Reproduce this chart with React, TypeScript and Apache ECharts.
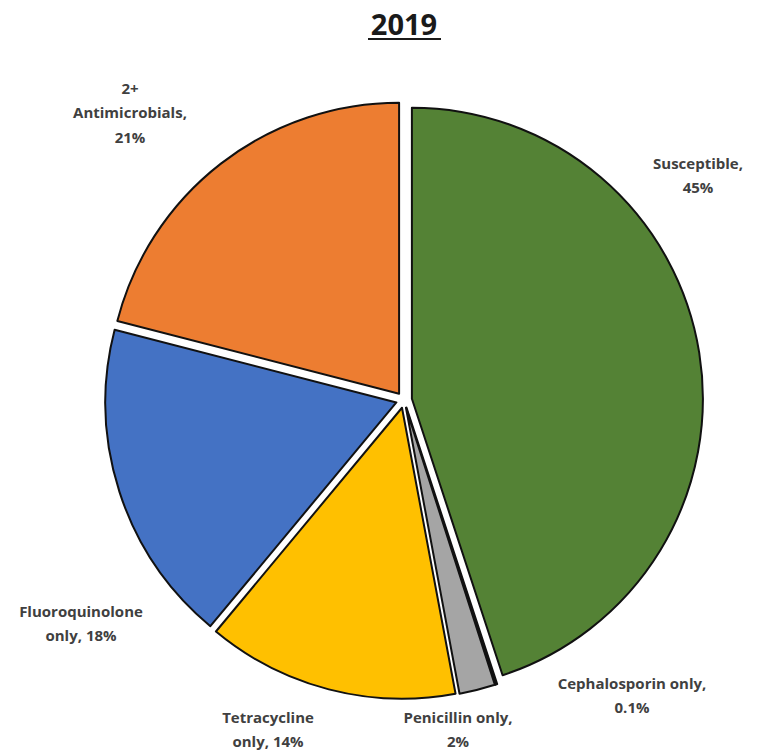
import React, { useEffect, useRef } from "react";
import * as echarts from "echarts";

const titleText = "2019";
const categories = [
  "Susceptible",
  "Cephalosporin only",
  "Penicillin only",
  "Tetracycline only",
  "Fluoroquinolone only",
  "2+ Antimicrobials",
];
const values = [45, 0.1, 2, 14, 18, 21];
const labelTexts = [
  "Susceptible,\n45%",
  "Cephalosporin only,\n0.1%",
  "Penicillin only,\n2%",
  "Tetracycline\nonly, 14%",
  "Fluoroquinolone\nonly, 18%",
  "2+\nAntimicrobials,\n21%",
];
const colors = ["#548235", "#3a3a3a", "#A5A5A5", "#FFC000", "#4472C4", "#ED7D31"];
const labelPos: [number, number][] = [
  [698, 175],
  [632, 695],
  [458, 729],
  [268, 729],
  [81, 623],
  [130, 112],
];

export default function App() {
  const ref = useRef<HTMLDivElement>(null);
  useEffect(() => {
    document.body.style.margin = "0";
    const chart = echarts.init(ref.current!, undefined, { renderer: "svg" });
    chart.setOption({
      animation: false,
      backgroundColor: "#ffffff",
      graphic: [
        {
          type: "text",
          x: 404,
          y: 23,
          style: {
            text: titleText,
            align: "center",
            verticalAlign: "middle",
            fontFamily: "Open Sans",
            fontWeight: "bold",
            fontSize: 29,
            fill: "#1a1a1a",
          },
        },
        {
          type: "line",
          shape: { x1: 368, y1: 39, x2: 441, y2: 39 },
          style: { stroke: "#1a1a1a", lineWidth: 2 },
        },
        ...labelTexts.map((t, i) => ({
          type: "text",
          x: labelPos[i][0],
          y: labelPos[i][1],
          style: {
            text: t,
            align: "center",
            verticalAlign: "middle",
            fontFamily: "Open Sans",
            fontWeight: "bold",
            fontSize: 15,
            lineHeight: 24.5,
            fill: "#404040",
          },
        })),
      ],
      series: [
        {
          type: "pie",
          center: [404, 400],
          radius: 291,
          startAngle: 90,
          clockwise: true,
          selectedMode: "multiple",
          selectedOffset: 8,
          emphasis: { disabled: true },
          itemStyle: { borderColor: "#111", borderWidth: 2 },
          label: { show: false },
          labelLine: { show: false },
          data: categories.map((c, i) => ({
            name: c,
            value: values[i],
            selected: true,
            itemStyle: { color: colors[i] },
          })),
        },
      ],
    });
    return () => chart.dispose();
  }, []);
  return <div ref={ref} style={{ width: 782, height: 752 }} />;
}
